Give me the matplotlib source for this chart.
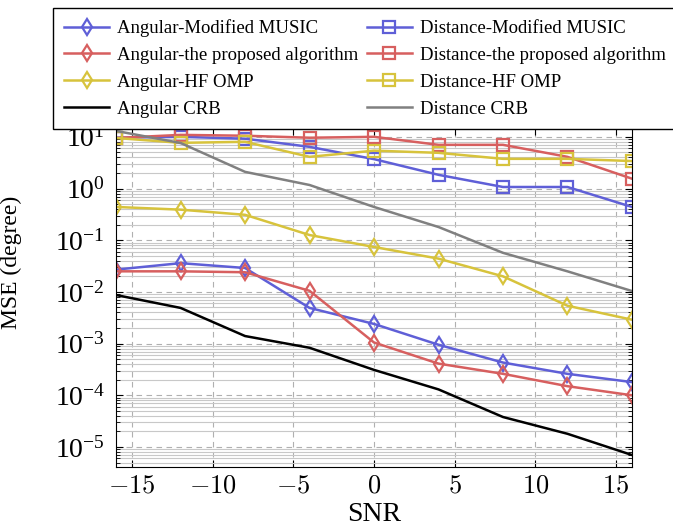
#! /usr/bin/env python3
# -*- coding: utf-8 -*-

import matplotlib
matplotlib.use("Agg")
import matplotlib.pyplot as plt
from matplotlib.ticker import LogLocator, NullFormatter, FixedLocator

## Data

snr = [-16, -12, -8, -4, 0, 4, 8, 12, 16]

ang_music = [0.027, 0.036, 0.029, 0.0049, 0.0024, 0.00095, 4.3e-4, 2.6e-4, 1.8e-4]
ang_prop = [0.025, 0.025, 0.024, 0.0105, 0.00105, 4.1e-4, 2.6e-4, 1.5e-4, 1.0e-4]
ang_omp = [0.44, 0.39, 0.31, 0.126, 0.074, 0.044, 0.020, 0.0054, 0.0029]
ang_crb = [0.0087, 0.0049, 0.0014, 8.3e-4, 3.1e-4, 1.3e-4, 3.8e-5, 1.8e-5, 7e-6]

dist_music = [9.6, 10.0, 9.2, 6.4, 3.7, 1.84, 1.07, 1.07, 0.44]
dist_prop = [9.5, 10.9, 10.5, 9.6, 10.0, 7.0, 7.0, 4.1, 1.55]
dist_omp = [9.5, 7.65, 8.0, 4.1, 5.4, 4.9, 3.75, 3.75, 3.4]
dist_crb = [13.0, 7.6, 2.1, 1.17, 0.44, 0.18, 0.057, 0.025, 0.0104]

x_ticks = [-15, -10, -5, 0, 5, 10, 15]

## Style

BLUE = "#5f5fd7"
RED = "#d75f5f"
YELLOW = "#d7c33c"
GRAY = "#808080"

plt.rcParams["font.family"] = ["Liberation Serif", "DejaVu Serif"]
plt.rcParams["mathtext.fontset"] = "cm"


def main():
    fig = plt.figure(figsize=(6.73, 5.29), dpi=100)
    ax = fig.add_axes([0.1725, 0.1172, 0.7665, 0.6408])

    lw = 1.8
    ms = 8
    ax.plot(snr, ang_music, color=BLUE, lw=lw, marker="d", ms=ms, mfc="none", mew=1.6,
            label="Angular-Modified MUSIC")
    ax.plot(snr, ang_prop, color=RED, lw=lw, marker="d", ms=ms, mfc="none", mew=1.6,
            label="Angular-the proposed algorithm")
    ax.plot(snr, ang_omp, color=YELLOW, lw=lw, marker="d", ms=ms, mfc="none", mew=1.6,
            label="Angular-HF OMP")
    ax.plot(snr, ang_crb, color="black", lw=lw, label="Angular CRB")
    ax.plot(snr, dist_music, color=BLUE, lw=lw, marker="s", ms=ms, mfc="none", mew=1.6,
            label="Distance-Modified MUSIC")
    ax.plot(snr, dist_prop, color=RED, lw=lw, marker="s", ms=ms, mfc="none", mew=1.6,
            label="Distance-the proposed algorithm")
    ax.plot(snr, dist_omp, color=YELLOW, lw=lw, marker="s", ms=ms, mfc="none", mew=1.6,
            label="Distance-HF OMP")
    ax.plot(snr, dist_crb, color=GRAY, lw=lw, label="Distance CRB")

    ax.set_yscale("log")
    ax.set_xlim(-16, 16)
    ax.set_ylim(4.1e-6, 14.8)

    ax.xaxis.set_major_locator(FixedLocator(x_ticks))
    ax.set_xticklabels([r"$%d$" % t if t >= 0 else r"$-%d$" % -t for t in x_ticks])
    ax.yaxis.set_major_locator(LogLocator(base=10, numticks=20))
    ax.yaxis.set_minor_locator(LogLocator(base=10, subs=range(2, 10), numticks=20))
    ax.yaxis.set_minor_formatter(NullFormatter())

    ax.grid(True, which="major", axis="both", color="#b0b0b0", ls=(0, (5, 4)), lw=0.8)
    ax.grid(True, which="minor", axis="y", color="#c8c8c8", ls="-", lw=0.8)
    ax.set_axisbelow(True)

    ax.tick_params(which="both", direction="in", top=True, right=True, labelsize=19)
    ax.tick_params(which="major", length=5)
    ax.tick_params(which="minor", length=3)
    ax.tick_params(axis="x", which="major", pad=6)
    ax.tick_params(axis="y", which="major", labelsize=20, pad=8)

    ax.set_xlabel("SNR", fontsize=20, labelpad=3)
    ax.set_ylabel("MSE (degree)", fontsize=17)
    ax.yaxis.set_label_coords(-0.182, 0.605)

    leg = fig.legend(loc="upper left", bbox_to_anchor=(53 / 673, 1 - 8 / 529),
                     ncol=2, fontsize=13.5, frameon=True,
                     fancybox=False, edgecolor="black", framealpha=1,
                     handlelength=2.4, borderaxespad=0, borderpad=0.6,
                     columnspacing=0.43, handletextpad=0.43, labelspacing=0.52)
    leg.get_frame().set_linewidth(1.0)

    fig.savefig("out.png", dpi=100)


## Run

if __name__ == "__main__":
    main()
